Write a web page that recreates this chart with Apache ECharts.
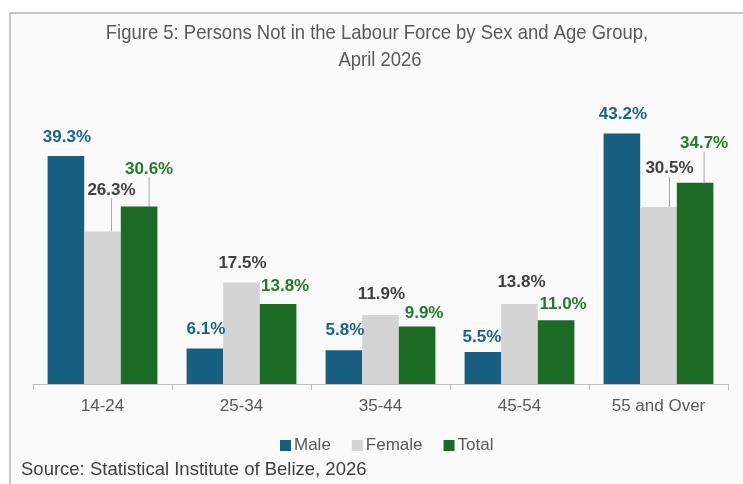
<!DOCTYPE html>
<html>
<head>
<meta charset="utf-8">
<script src="https://cdn.jsdelivr.net/npm/echarts@6/dist/echarts.min.js"></script>
<style>
  html, body { margin: 0; padding: 0; background: #ffffff; overflow: hidden; }
  #chart { width: 743px; height: 484px; }
</style>
</head>
<body>
<div id="chart"></div>
<script>
const categories = ['14-24', '25-34', '35-44', '45-54', '55 and Over'];
const male = [39.3, 6.1, 5.8, 5.5, 43.2];
const female = [26.3, 17.5, 11.9, 13.8, 30.5];
const total = [30.6, 13.8, 9.9, 11.0, 34.7];

const titleLines = ['Figure 5: Persons Not in the Labour Force by Sex and Age Group,', 'April 2026'];
const sourceNote = 'Source: Statistical Institute of Belize, 2026';

// label nudges (px) to match the hand-placed labels of the original
const labelShift = [
  [[1, -5], [1, -6], [1, -7], [-1, -1], [1, -6]],
  [[9, -28], [1, -6], [1, -7], [2, -8], [11, -25]],
  [[10, -24], [7, -4], [7, 0], [7, -2], [9, -26]],
];
const guideLine = [
  [false, false, false, false, false],
  [true, false, false, false, true],
  [true, false, false, false, true],
];

const sans = '"Liberation Sans", Arial, sans-serif';

const chart = echarts.init(document.getElementById('chart'));

function makeSeries(name, values, idx, barColor, labelColor) {
  return {
    name,
    type: 'bar',
    barGap: 0,
    barCategoryGap: '21%',
    data: values.map((v, i) => ({ value: v, labelLine: { show: guideLine[idx][i] } })),
    itemStyle: { color: barColor },
    label: {
      show: true,
      position: 'top',
      distance: 5,
      formatter: (p) => p.value.toFixed(1) + '%',
      color: labelColor,
      fontFamily: sans,
      fontWeight: 'bold',
      fontSize: 17,
    },
    labelLine: {
      show: false,
      lineStyle: { color: '#a6a6a6', width: 1 },
    },
    labelLayout: (p) => {
      const s = labelShift[idx][p.dataIndex];
      return { dx: s[0], dy: s[1] };
    },
  };
}

chart.setOption({
  animation: false,
  backgroundColor: '#ffffff',
  graphic: [
    {
      type: 'rect',
      z: -10,
      shape: { x: 10, y: 13, width: 760, height: 500 },
      style: { fill: '#fafafa', stroke: '#b3b3b3', lineWidth: 1.5 },
    },
    {
      type: 'text',
      x: 377,
      y: 33,
      scaleX: 0.88,
      style: {
        text: titleLines[0],
        fill: '#595959',
        font: '21px ' + sans,
        textAlign: 'center',
        textVerticalAlign: 'middle',
      },
    },
    {
      type: 'text',
      x: 380,
      y: 60,
      scaleX: 0.88,
      style: {
        text: titleLines[1],
        fill: '#595959',
        font: '21px ' + sans,
        textAlign: 'center',
        textVerticalAlign: 'middle',
      },
    },
    {
      type: 'text',
      x: 21,
      y: 470,
      style: {
        text: sourceNote,
        fill: '#404040',
        font: '18.5px ' + sans,
        textVerticalAlign: 'middle',
      },
    },
  ],
  legend: {
    data: ['Male', 'Female', 'Total'],
    left: 280,
    top: 437,
    padding: 0,
    itemWidth: 11,
    itemHeight: 11,
    itemGap: 21,
    icon: 'rect',
    textStyle: { color: '#595959', fontFamily: sans, fontSize: 17, padding: [0, 0, 0, -2] },
  },
  grid: { left: 33, right: 15, top: 94, bottom: 100, containLabel: false },
  xAxis: {
    type: 'category',
    data: categories,
    axisLine: { lineStyle: { color: '#bfbfbf', width: 1 } },
    axisTick: { show: true, length: 6, lineStyle: { color: '#bfbfbf' } },
    axisLabel: { color: '#595959', fontFamily: sans, fontSize: 17, margin: 14 },
  },
  yAxis: {
    type: 'value',
    min: 0,
    max: 50,
    show: false,
  },
  series: [
    makeSeries('Male', male, 0, '#185e80', '#1b6289'),
    makeSeries('Female', female, 1, '#d4d4d4', '#404040'),
    makeSeries('Total', total, 2, '#1b6b25', '#237a2f'),
  ],
});
</script>
</body>
</html>
